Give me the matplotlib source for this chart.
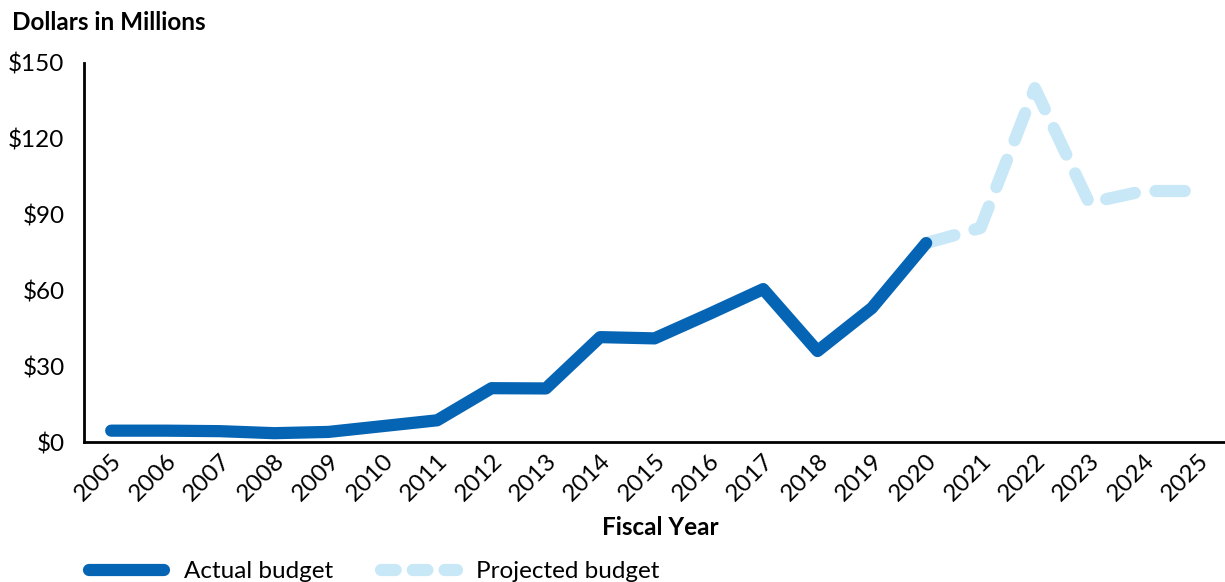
import matplotlib
matplotlib.use("Agg")
import matplotlib.pyplot as plt
from matplotlib.lines import Line2D

plt.rcParams["font.family"] = ["Lato", "DejaVu Sans"]

# Budget in millions of dollars
years = [str(y) for y in range(2005, 2026)]
actual_years = years[:16]          # 2005..2020
actual = [4.5, 4.5, 4.3, 3.5, 4.0, 6.3, 8.6, 21.3, 21.2, 41.5, 41.0,
          50.6, 60.5, 36.0, 53.0, 78.7]
projected_years = years[15:]       # 2020..2025
projected = [78.7, 84.7, 140.0, 94.6, 99.3, 99.3]
yticks = [0, 30, 60, 90, 120, 150]

dark_blue = "#0565b4"
light_blue = "#c8e8f8"
fs = 17.5

fig = plt.figure(figsize=(12.25, 5.82), dpi=100)
ax = fig.add_axes([0.0686, 0.2405, 0.9314, 0.6515])

idx = {y: i for i, y in enumerate(years)}
ax.plot([idx[y] for y in projected_years], projected, color=light_blue,
        linewidth=8.8, linestyle=(0, (2.4, 1.7)), dash_capstyle="round",
        solid_joinstyle="round")
ax.plot([idx[y] for y in actual_years], actual, color=dark_blue,
        linewidth=8.8, solid_capstyle="round", solid_joinstyle="round")

ax.set_xlim(-0.5, len(years) - 0.5)
ax.set_ylim(0, 150)
ax.set_xticks(range(len(years)))
ax.set_xticklabels(years, rotation=45, ha="right", rotation_mode="anchor",
                   fontsize=fs)
ax.set_yticks(yticks)
ax.set_yticklabels([f"${v}" for v in yticks], fontsize=fs)
ax.tick_params(axis="both", length=0)
ax.tick_params(axis="y", pad=14)
ax.tick_params(axis="x", pad=6)

for side in ["top", "right"]:
    ax.spines[side].set_visible(False)
for side in ["left", "bottom"]:
    ax.spines[side].set_linewidth(2)
    ax.spines[side].set_color("black")

fig.text(0.010, 0.962, "Dollars in Millions", fontsize=fs, fontweight="bold",
         va="center", ha="left")
fig.text(0.539, 0.094, "Fiscal Year", fontsize=fs, fontweight="bold",
         va="center", ha="center")

handles = [
    Line2D([], [], color=dark_blue, linewidth=8.8, solid_capstyle="round"),
    Line2D([], [], color=light_blue, linewidth=8.8,
           linestyle=(0, (1.2, 1.4)), dash_capstyle="round"),
]
fig.legend(handles, ["Actual budget", "Projected budget"], ncol=2,
           loc="center left", bbox_to_anchor=(0.0547, 0.018), frameon=False,
           fontsize=fs, handlelength=3.1, columnspacing=2.0, handletextpad=0.8)

fig.savefig("out.png", dpi=100)
